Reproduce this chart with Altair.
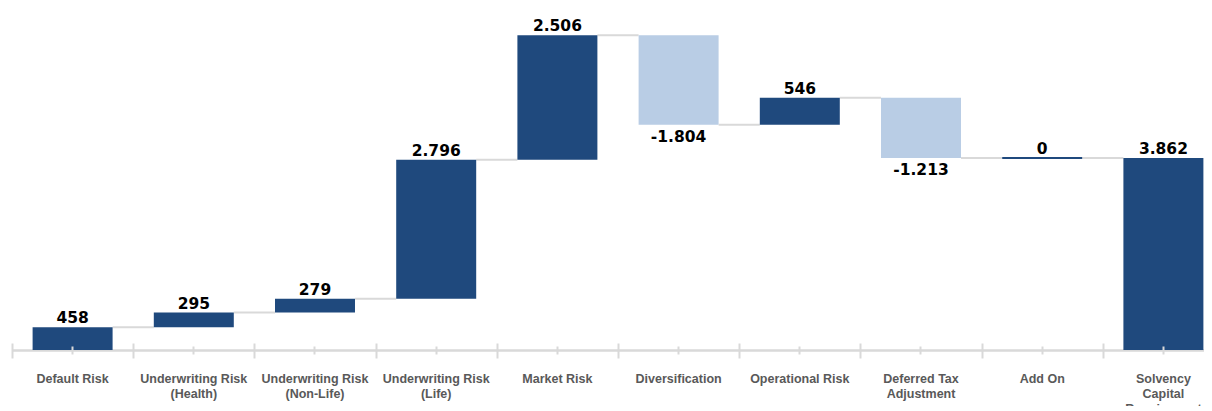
import altair as alt
import pandas as pd

categories = ["Default Risk", "Underwriting Risk|(Health)", "Underwriting Risk|(Non-Life)",
              "Underwriting Risk|(Life)", "Market Risk", "Diversification", "Operational Risk",
              "Deferred Tax|Adjustment", "Add On", "Solvency|Capital|Requirement"]
values = [458, 295, 279, 2796, 2506, -1804, 546, -1213, 0, 3862]
is_total = [False, False, False, False, False, False, False, False, False, True]

rows = []
running = 0
for i, (c, v, t) in enumerate(zip(categories, values, is_total)):
    if t:
        start, end = 0, v
    else:
        start, end = running, running + v
        running = end
    rows.append({
        "cat": c, "value": v, "start": start, "end": end,
        "lo": min(start, end), "hi": max(start, end),
        "kind": "neg" if v < 0 else "pos",
        "label": f"{abs(v):,}".replace(",", ".") if v >= 0 else "-" + f"{abs(v):,}".replace(",", "."),
        "next": categories[i + 1] if i + 1 < len(categories) else None,
    })
df = pd.DataFrame(rows)
conn = df[df["next"].notna()].copy()

DARK = "#1F497D"
LIGHT = "#B9CDE5"
GRID = "#D9D9D9"

xscale = alt.Scale(domain=categories, range=[0, 1212], paddingInner=0.34, paddingOuter=0.17)
yscale = alt.Scale(domain=[0, 6880], nice=False)

x_main = alt.X("cat:N", scale=xscale, sort=categories, title=None,
               axis=alt.Axis(orient="bottom", labelAngle=0, ticks=False, domainColor=GRID,
                             domainWidth=2.5, labelExpr="split(datum.label, '|')",
                             labelFont="Liberation Sans", labelFontWeight="bold",
                             labelFontSize=12.5, labelColor="#595959", labelPadding=22,
                             labelLineHeight=15, labelBaseline="top"))

bars = alt.Chart(df).mark_bar().encode(
    x=x_main,
    y=alt.Y("lo:Q", scale=yscale, axis=None),
    y2="hi:Q",
    color=alt.Color("kind:N", scale=alt.Scale(domain=["pos", "neg"], range=[DARK, LIGHT]), legend=None),
    stroke=alt.Color("kind:N", scale=alt.Scale(domain=["pos", "neg"], range=[DARK, LIGHT]), legend=None),
    strokeWidth=alt.condition("datum.value == 0", alt.value(2), alt.value(0)),
)

x_major = alt.X("cat:N", scale=xscale, sort=categories, title=None,
                axis=alt.Axis(orient="bottom", domain=False, labels=False, ticks=True,
                              tickSize=15, tickColor=GRID, tickWidth=2, tickOffset=-60.6,
                              offset=-7, zindex=1))

connectors = alt.Chart(conn).mark_rule(color=GRID, strokeWidth=2, xOffset=40, x2Offset=-40).encode(
    x=x_major,
    x2="next:N",
    y=alt.Y("end:Q", scale=yscale, axis=None),
)

x_minor = alt.X("cat:N", scale=xscale, sort=categories, title=None,
                axis=alt.Axis(orient="bottom", domain=False, labels=False, ticks=True,
                              tickSize=8, tickColor=GRID, tickWidth=2, offset=-4, zindex=1))

pos_labels = alt.Chart(df[df["value"] >= 0]).mark_text(
    font="DejaVu Sans", fontWeight="bold", fontSize=15.5, color="#000000",
    baseline="alphabetic", dy=-4
).encode(
    x=x_minor,
    y=alt.Y("hi:Q", scale=yscale, axis=None),
    text="label:N",
)

neg_labels = alt.Chart(df[df["value"] < 0]).mark_text(
    font="DejaVu Sans", fontWeight="bold", fontSize=15.5, color="#000000",
    baseline="top", dy=5
).encode(
    x=alt.X("cat:N", scale=xscale, sort=categories, axis=None),
    y=alt.Y("lo:Q", scale=yscale, axis=None),
    text="label:N",
)

chart = alt.layer(connectors, bars, pos_labels, neg_labels).resolve_axis(x="independent").properties(
    width=1192, height=342,
    autosize=alt.AutoSizeParams(type="none"),
    padding={"left": 4, "top": 0, "right": 0, "bottom": 56},
).configure_view(stroke=None)

chart.save("out.html", embed_options={"renderer": "svg", "actions": False})
